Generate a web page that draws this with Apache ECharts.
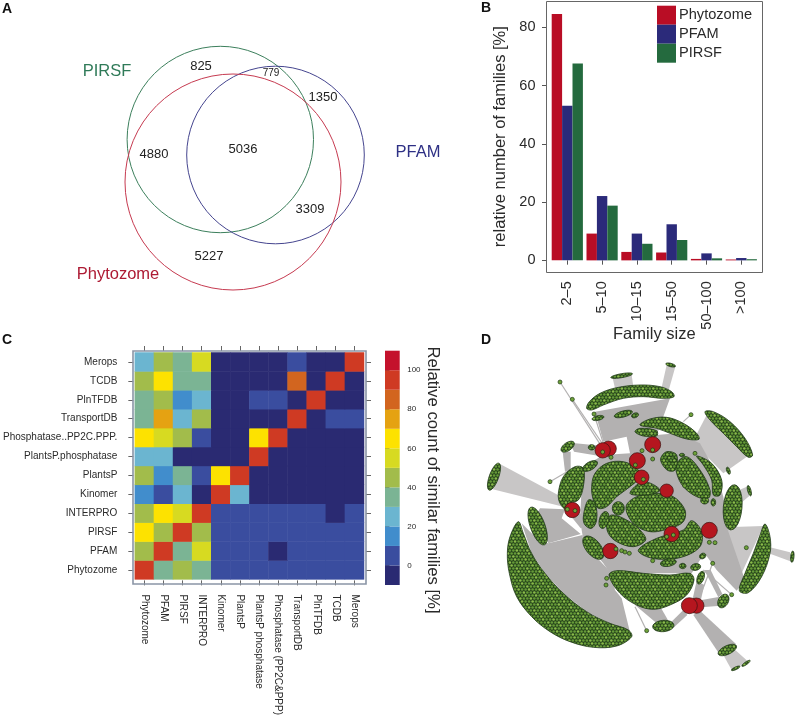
<!DOCTYPE html>
<html><head><meta charset="utf-8">
<style>html,body{margin:0;padding:0;background:#fff}#c{width:797px;height:718px}</style>
<script src="https://cdn.jsdelivr.net/npm/echarts@6/dist/echarts.min.js"></script>
</head><body><div id="c"></div>
<script>
// ---------- A: Venn ----------
const vennSets = ['PIRSF','PFAM','Phytozome'];
const vennColors = ['#3c7f5c','#45458f','#c63a50'];
const vennTextColors = ['#2f7a58','#2e3085','#ad1a33'];
const vennCircles = [[220.3,139.5,93.2],[275.5,155,88.8],[233,182,108]];
const vennSetLabels = [[107,71],[418,152],[118,274]];
const vennCounts = [[201,66,825],[271,73,779],[323,97,1350],[154,154,4880],[243,149,5036],[310,209,3309],[209,256,5227]];
const vennSmallCount = 779;

// ---------- B: bars ----------
const sizeBins = ['2\u20135','5\u201310','10\u201315','15\u201350','50\u2013100','>100'];
const phytozomeShare = [84.6,9.2,2.9,2.7,0.5,0.3];
const pfamShare = [53.1,22.1,9.2,12.4,2.4,0.8];
const pirsfShare = [67.6,18.8,5.7,7.0,0.7,0.4];
const shareTicks = [0,20,40,60,80];

// ---------- C: heatmap ----------
const heatColLabels = ['Phytozome','PFAM','PIRSF','INTERPRO','Kinomer','PlantsP','PlantsP phosphatase','Phosphatase (PP2C&PPP)','TransportDB','PlnTFDB','TCDB','Merops'];
const heatRowLabels = ['Phytozome','PFAM','PIRSF','INTERPRO','Kinomer','PlantsP','PlantsP.phosphatase','Phosphatase..PP2C.PPP.','TransportDB','PlnTFDB','TCDB','Merops'];
const heatValues = [ // bottom row first
 [95,35,45,35,5,5,5,5,5,5,5,5],
 [45,95,35,55,5,5,5,-5,5,5,5,5],
 [65,45,95,45,5,5,5,5,5,5,5,5],
 [45,65,55,95,5,5,5,5,5,5,-5,5],
 [15,5,25,-5,95,25,-5,-5,-5,-5,-5,-5],
 [45,15,35,5,65,95,-5,-5,-5,-5,-5,-5],
 [25,25,-5,-5,-5,-5,95,-5,-5,-5,-5,-5],
 [65,55,45,5,-5,-5,65,95,-5,-5,-5,-5],
 [35,75,25,45,-5,-5,-5,-5,95,-5,5,5],
 [35,45,15,25,-5,-5,5,5,-5,95,-5,-5],
 [45,65,35,35,-5,-5,-5,-5,85,-5,95,-5],
 [25,45,35,55,-5,-5,-5,-5,5,-5,-5,95]
];
const colorBandEdges = [-10,0,10,20,30,40,50,60,70,80,90,100,110];
const colorBandColors = ['#2a2a72','#3a4d9f','#418dcc','#6bb5d0','#7bb494','#a2bc4b','#d7da21','#fde200','#e5a212','#d2651f','#cf3a23','#c4122c'];
const colorTicks = [0,20,40,60,80,100];

// ---------- D: network (units of a 981 x 1134 drawing space) ----------
const netWedgesSolid = [
 [[340,380],[400,345],[480,340],[470,290],[400,305],[375,215],[600,175],[560,285],[620,280],[690,310],[740,400],[760,470],[775,560],[715,640],[690,660],[665,700],[420,700],[400,670],[340,600],[330,540],[335,440]],
 [[155,550],[205,600],[235,610],[338,585],[340,610],[425,700],[435,750],[455,775],[482,885],[420,850],[350,815],[280,760],[225,700],[185,640]],
 [[210,505],[285,508],[275,535],[332,582],[235,610],[195,530]],
 [[300,525],[340,520],[345,560],[332,565]],
 [[690,620],[770,560],[825,720],[800,752],[740,690]],
 [[495,795],[565,790],[595,842],[560,850]],
 [[600,850],[640,810],[652,825],[612,862]],
 [[695,780],[750,770],[752,797],[695,802]],
 [[670,825],[690,812],[798,912],[748,942]],
 [[300,308],[312,335],[402,350],[402,318]],
 [[278,335],[302,335],[302,390],[285,395]],
 [[680,722],[703,735],[692,782],[668,776]],
 [[703,690],[722,690],[757,762],[745,772]]
];
const netWedgesLight = [
 [[90,372],[68,448],[280,500],[292,480]],
 [[710,225],[838,345],[760,400],[668,305]],
 [[880,558],[815,700],[760,640],[765,562]],
 [[428,115],[485,105],[490,140],[435,145]],
 [[590,75],[616,80],[597,148],[575,142]],
 [[760,945],[790,925],[835,965],[785,990]],
 [[830,440],[838,468],[812,490],[808,450]],
 [[900,622],[960,637],[965,665],[896,640]]
];
const netBlobs = [
 [[145,545],[120,590],[112,640],[118,700],[140,770],[185,830],[240,875],[300,905],[370,922],[440,918],[485,890],[475,870],[420,850],[350,815],[280,760],[225,700],[185,640],[160,580]],
 [[350,205],[358,185],[390,160],[440,143],[510,135],[570,140],[605,155],[612,170],[580,175],[520,170],[460,175],[400,195],[365,210]],
 [[510,255],[540,237],[590,232],[640,250],[680,280],[687,298],[650,297],[600,280],[560,265]],
 [[495,275],[510,265],[560,272],[560,288],[520,288]],
 [[705,215],[730,215],[780,245],[825,295],[848,345],[835,352],[800,320],[760,280],[720,240]],
 [[265,460],[280,410],[315,380],[340,385],[340,440],[325,480],[300,490],[290,510],[270,490]],
 [[365,440],[375,400],[410,370],[460,365],[500,385],[510,410],[480,440],[440,470],[410,500],[385,505],[370,480]],
 [[340,530],[355,480],[375,490],[380,540],[365,565],[345,555]],
 [[410,545],[425,525],[470,540],[510,570],[527,600],[490,620],[440,605],[415,580]],
 [[468,500],[500,470],[560,460],[610,470],[645,510],[640,545],[600,565],[540,575],[490,550]],
 [[480,460],[520,425],[570,450],[530,465]],
 [[505,630],[560,595],[640,570],[665,542],[695,575],[690,620],[640,650],[580,658],[530,650]],
 [[620,370],[650,350],[690,390],[720,450],[715,475],[680,470],[640,440],[620,400]],
 [[680,348],[725,370],[755,420],[750,465],[730,465],[725,420],[700,375]],
 [[572,355],[590,335],[620,345],[615,390],[595,392],[578,375]],
 [[885,552],[900,590],[900,640],[875,710],[835,758],[808,752],[825,700],[850,640],[870,585]],
 [[417,705],[440,692],[520,700],[600,705],[660,700],[672,720],[650,765],[600,795],[550,808],[500,795],[450,760]]
];
const netEllipses = [ // cx, cy, rx, ry, degrees
 [455,107,33,6,-10],[602,75,15,5,15],[460,222,28,9,-15],[384,234,18,7,-12],[495,226,11,7,-20],
 [293,320,23,12,-35],[72,410,14,43,20],[203,558,22,60,-20],[370,623,22,42,-40],[402,540,14,26,15],
 [445,505,18,20,0],[788,502,28,68,5],[967,650,5,17,5],[838,452,5,16,-15],[775,392,5,11,-20],
 [580,858,32,17,-5],[772,930,30,13,-25],[797,985,14,4,-25],[828,970,15,4,-35],[760,783,15,22,30],
 [692,713,10,20,20],[595,668,24,11,-10],[677,681,15,10,-10],[638,678,10,8,0],[698,648,10,8,-30],
 [730,487,7,11,0],[704,482,12,10,0],[360,378,25,12,-30],[365,322,10,8,0],[605,358,15,8,15],[636,345,8,5,0]
];
const netHubs = [[416,326,23],[398,331,23],[548,314,24],[502,362,24],[515,412,22],[590,452,20],[307,510,23],[605,582,23],[718,571,24],[421,633,23],[679,797,23],[658,797,24]];
const netNodes = [[270,126],[307,178],[240,425],[663,224],[372,222],[785,764],[530,872],[728,670],[548,357],[516,332],[408,735],[410,715],[644,437],[718,607],[735,608],[455,632],[465,636],[478,640],[829,623],[548,662],[423,352],[675,340],[398,336],[438,627],[496,375],[548,330],[520,418],[590,590],[610,585],[292,508],[315,512]];
const netLinks = [[[270,126],[395,320]],[[307,178],[402,318]],[[240,425],[300,390]],[[663,224],[640,245]],[[530,872],[495,800]],[[785,764],[700,690]],[[728,670],[682,790]],[[372,222],[400,310]]];

// ---------- helpers ----------
function dotTile(){
  const s=document.createElement('canvas'); s.width=21; s.height=18;
  const g=s.getContext('2d');
  g.fillStyle='#28461c'; g.fillRect(0,0,21,18);
  for(let r=0;r<6;r++)for(let c=-1;c<8;c++){
    const x=c*3.5+(r%2?1.75:0)+0.6, y=r*3+1.5;
    g.fillStyle=((r*2+c)%3===0)?'#8abb4a':'#659a38';
    g.beginPath();g.arc(x,y,1.3,0,Math.PI*2);g.fill();
  }
  return s;
}
const blobFill={image:dotTile(),repeat:'repeat'};
const chart=echarts.init(document.getElementById('c'),null,{renderer:'canvas'});
const FONT='"Liberation Sans",Arial,sans-serif';
const TC='#2a2a2a';
const heatData=[];
heatValues.forEach((row,y)=>row.forEach((v,x)=>heatData.push([x,y,v])));
function ptsToCoord(api,pts){return pts.map(p=>api.coord(p));}
function polySeries(name,polys,fill,z,stroke,smooth){
  return {type:'custom',name,xAxisIndex:5,yAxisIndex:5,z,silent:true,clip:false,
    data:polys.map((p,i)=>[p[0][0],p[0][1],i]),
    renderItem(params,api){
      return {type:'polygon',shape:{points:ptsToCoord(api,polys[params.dataIndex]),smooth:smooth},
        style:{fill,stroke:stroke||'none',lineWidth:stroke?0.8:0}};
    }};
}
function ellipsePts(e){
  const [cx,cy,rx,ry,d]=e,a=d*Math.PI/180,out=[];
  for(let i=0;i<24;i++){const t=i/24*Math.PI*2,x=rx*Math.cos(t),y=ry*Math.sin(t);
    out.push([cx+x*Math.cos(a)-y*Math.sin(a),cy+x*Math.sin(a)+y*Math.cos(a)]);}
  return out;
}
const hiddenAxis={show:false,type:'value'};
const tick={show:true,length:4.5,lineStyle:{color:'#555',width:1}};
const tickH={show:true,interval:0,length:5,alignWithLabel:true,lineStyle:{color:'#666',width:1}};
const option={
 animation:false,backgroundColor:'#fff',
 textStyle:{fontFamily:FONT},
 graphic:{elements:[
  {type:'text',left:2,top:2,z:50,style:{text:'A',font:'bold 14px '+FONT,fill:'#111'}},
  {type:'text',left:481,top:1,z:50,style:{text:'B',font:'bold 14px '+FONT,fill:'#111'}},
  {type:'text',left:2,top:333,z:50,style:{text:'C',font:'bold 14px '+FONT,fill:'#111'}},
  {type:'text',left:481,top:333,z:50,style:{text:'D',font:'bold 14px '+FONT,fill:'#111'}},
  {type:'rect',z:40,silent:true,shape:{x:546.5,y:1.5,width:216,height:271},style:{fill:'none',stroke:'#666',lineWidth:1}},
  {type:'rect',z:40,silent:true,shape:{x:133,y:351,width:233,height:233},style:{fill:'none',stroke:'#8a95a6',lineWidth:1.6}},
  {type:'text',z:50,silent:true,x:433,y:480,rotation:-Math.PI/2,style:{text:'Relative count of similar families [%]',font:'16.7px '+FONT,fill:TC,align:'center',verticalAlign:'middle'}}
 ]},
 legend:{data:['Phytozome','PFAM','PIRSF'],orient:'vertical',left:657,top:5.7,icon:'rect',itemWidth:19,itemHeight:19,itemGap:0,
   selectedMode:false,padding:0,textStyle:{fontSize:14.6,color:TC,padding:[0,0,0,-2],fontFamily:FONT}},
 visualMap:{type:'piecewise',show:false,seriesIndex:4,
   pieces:colorBandColors.map((c,i)=>({min:colorBandEdges[i],max:colorBandEdges[i+1],color:c}))},
 grid:[
  {left:0,top:0,width:470,height:320},
  {left:549.9,top:1,width:208.8,height:271.3},
  {left:134,top:352.5,width:230,height:230.5},
  {left:385,top:350.7,width:14.7,height:234.3},
  {left:470,top:340,width:327,height:378}
 ],
 xAxis:[
  {...hiddenAxis,gridIndex:0,min:0,max:470},
  {gridIndex:1,type:'category',data:sizeBins,axisLine:{show:false},axisTick:{...tick,alignWithLabel:true,length:4.3},
    axisLabel:{rotate:90,fontSize:14.5,color:TC,margin:9,interval:0,fontFamily:FONT},
    name:'Family size',nameLocation:'middle',nameGap:54,nameMoveOverlap:false,nameTextStyle:{fontSize:16.5,color:TC,fontFamily:FONT}},
  {gridIndex:2,type:'category',data:heatColLabels,position:'bottom',offset:1,axisLine:{show:false},axisTick:tickH,
    axisLabel:{rotate:-90,fontSize:10,color:TC,margin:14,interval:0,fontFamily:FONT}},
  {gridIndex:2,type:'category',data:heatColLabels,position:'top',offset:1.5,axisLine:{show:false},axisTick:tickH,axisLabel:{show:false,interval:0}},
  {...hiddenAxis,gridIndex:3,min:0,max:1},
  {...hiddenAxis,gridIndex:4,min:0,max:981}
 ],
 yAxis:[
  {...hiddenAxis,gridIndex:0,min:0,max:320,inverse:true},
  {gridIndex:1,type:'value',min:-4.1,max:89.1,offset:3.4,axisLine:{show:false},splitLine:{show:false},
    axisTick:{...tick,customValues:shareTicks},
    axisLabel:{fontSize:14.5,color:TC,margin:11,customValues:shareTicks,fontFamily:FONT},
    name:'relative number of families [%]',nameLocation:'middle',nameGap:38,nameMoveOverlap:false,nameTextStyle:{fontSize:16.5,color:TC,fontFamily:FONT}},
  {gridIndex:2,type:'category',data:heatRowLabels,position:'left',offset:1.5,axisLine:{show:false},axisTick:tickH,
    axisLabel:{fontSize:10,color:TC,margin:16,interval:0,fontFamily:FONT}},
  {gridIndex:2,type:'category',data:heatRowLabels,position:'right',offset:2,axisLine:{show:false},axisTick:tickH,axisLabel:{show:false,interval:0}},
  {gridIndex:3,type:'value',position:'right',min:-10,max:110,axisLine:{show:false},splitLine:{show:false},
    axisTick:{show:true,length:4.5,lineStyle:{color:'#555'},customValues:colorTicks},
    axisLabel:{fontSize:8,color:TC,margin:7.5,customValues:colorTicks,fontFamily:FONT}},
  {...hiddenAxis,gridIndex:4,min:0,max:1134,inverse:true}
 ],
 series:[
  // 0 Venn circles
  {type:'custom',xAxisIndex:0,yAxisIndex:0,silent:true,clip:false,data:vennCircles,
   renderItem(p,api){
     const c=api.coord([api.value(0),api.value(1)]);
     const r=api.size([api.value(2),0])[0];
     return {type:'circle',shape:{cx:c[0],cy:c[1],r},style:{fill:'none',stroke:vennColors[p.dataIndex],lineWidth:1}};
   }},
  // 1 Venn counts
  {type:'scatter',xAxisIndex:0,yAxisIndex:0,symbolSize:0,silent:true,itemStyle:{opacity:1},
   data:vennCounts.map(v=>({value:v,label:{fontSize:v[2]===vennSmallCount?10:13}})),
   label:{show:true,position:'inside',color:'#222',fontFamily:FONT,formatter:d=>String(d.value[2])}},
  // 2 Venn set names
  {type:'scatter',xAxisIndex:0,yAxisIndex:0,symbolSize:0,silent:true,itemStyle:{opacity:1},
   data:vennSetLabels.map((p,i)=>({value:p,label:{color:vennTextColors[i]}})),
   label:{show:true,position:'inside',fontSize:16.5,fontFamily:FONT,formatter:d=>vennSets[d.dataIndex]}},
  // 3 colour bar
  {type:'custom',xAxisIndex:4,yAxisIndex:4,silent:true,clip:false,
   data:colorBandColors.map((c,i)=>[colorBandEdges[i],colorBandEdges[i+1]]),
   renderItem(p,api){
     const a=api.coord([0,api.value(1)]),b=api.coord([1,api.value(0)]);
     return {type:'rect',shape:{x:a[0],y:a[1],width:b[0]-a[0],height:b[1]-a[1]},style:{fill:colorBandColors[p.dataIndex]}};
   },encode:{y:[0,1]}},
  // 4 heatmap
  {type:'heatmap',xAxisIndex:2,yAxisIndex:2,data:heatData,silent:true,progressive:0},
  // 5-7 bars
  {type:'bar',name:'Phytozome',xAxisIndex:1,yAxisIndex:1,data:phytozomeShare,barWidth:10.4,barGap:'0%',itemStyle:{color:'#b90d25'},silent:true},
  {type:'bar',name:'PFAM',xAxisIndex:1,yAxisIndex:1,data:pfamShare,barWidth:10.4,barGap:'0%',itemStyle:{color:'#2b2a7a'},silent:true},
  {type:'bar',name:'PIRSF',xAxisIndex:1,yAxisIndex:1,data:pirsfShare,barWidth:10.4,barGap:'0%',itemStyle:{color:'#246a3e'},silent:true},
  // network
  polySeries('edges-light',netWedgesLight,'#c8c6c6',1),
  polySeries('edges',netWedgesSolid,'#b3b1b1',2,null,0),
  {type:'lines',coordinateSystem:'cartesian2d',xAxisIndex:5,yAxisIndex:5,z:2,silent:true,
   data:netLinks.map(l=>({coords:l})),lineStyle:{color:'#b3b1b1',width:1.2,opacity:1}},
  {type:'scatter',xAxisIndex:5,yAxisIndex:5,z:4,silent:true,data:netHubs,
   symbolSize:d=>d[2]*2/3,itemStyle:{color:'#b5161f',borderColor:'#3a1210',borderWidth:0.7,opacity:1}},
  polySeries('clusters',netBlobs,blobFill,3,'#1f3a16',0.35),
  polySeries('clusters-small',netEllipses.map(ellipsePts),blobFill,3,'#1f3a16',0),
  {type:'scatter',xAxisIndex:5,yAxisIndex:5,z:5,silent:true,data:netNodes,symbolSize:4,
   itemStyle:{color:'#6fa23a',borderColor:'#1f3a16',borderWidth:0.7,opacity:1}}
 ]
};
chart.setOption(option);
</script></body></html>
